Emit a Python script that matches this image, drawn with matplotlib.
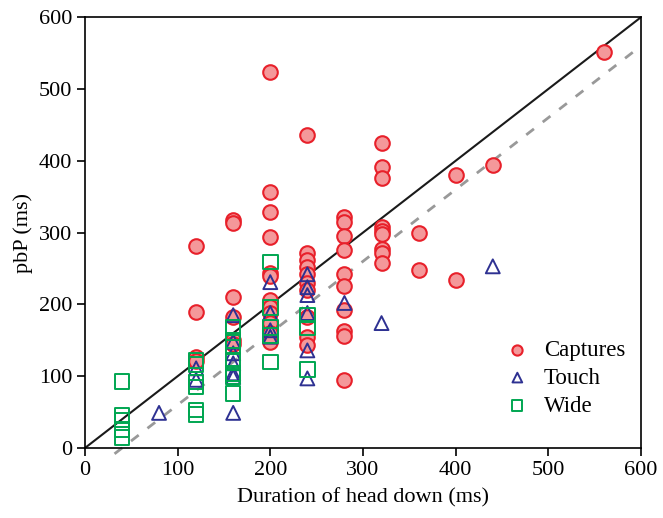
import numpy as np
import matplotlib
matplotlib.use('Agg')
import matplotlib.pyplot as plt

plt.rcParams['font.family'] = ['Liberation Serif', 'DejaVu Serif']

# Captures (red circles)
cap_x = [120, 120, 120, 120,
         160, 160, 160, 160, 160, 160,
         200, 200, 200, 200, 200, 200, 200, 200, 200, 200, 200, 200,
         240, 240, 240, 240, 240, 240, 240, 240, 240, 240,
         280, 280, 280, 280, 280, 280, 280, 280, 280, 280,
         320, 320, 320, 320, 320, 320, 320, 320, 320,
         360, 360, 400, 400, 440, 560]
cap_y = [281, 190, 127, 121,
         318, 314, 210, 182, 150, 145,
         524, 356, 328, 294, 244, 240, 206, 196, 188, 174, 160, 148,
         436, 271, 262, 252, 243, 230, 220, 183, 155, 143,
         322, 315, 295, 276, 242, 226, 192, 163, 156, 95,
         425, 391, 376, 308, 302, 298, 277, 271, 258,
         300, 248, 380, 234, 394, 552]

# Touch (blue triangles)
touch_x = [80, 120, 120,
           160, 160, 160, 160, 160, 160, 160,
           200, 200, 200, 200,
           240, 240, 240, 240, 240, 240,
           280, 320, 440]
touch_y = [49, 111, 95,
           185, 148, 132, 118, 104, 99, 49,
           231, 188, 164, 155,
           242, 224, 213, 188, 136, 97,
           202, 174, 253]

# Wide (green squares)
wide_x = [40, 40, 40, 40, 40,
          120, 120, 120, 120, 120, 120,
          160, 160, 160, 160, 160, 160, 160,
          200, 200, 200, 200, 200,
          240, 240, 240]
wide_y = [93, 46, 39, 25, 15,
          122, 116, 92, 85, 53, 47,
          168, 150, 141, 122, 104, 99, 76,
          259, 196, 168, 157, 120,
          185, 167, 109]

# reference lines
unity = [0, 600]
fit_x = [32, 600]
fit_offset = -40

fig = plt.figure(figsize=(6.63, 5.18), dpi=100)
ax = fig.add_axes([0.128, 0.135, 0.839, 0.832])

ax.plot(unity, unity, color='#1a1a1a', lw=1.5, zorder=1)
ax.plot(fit_x, np.array(fit_x) + fit_offset, color='#999999', lw=2.0,
        dashes=(3.5, 4), zorder=1, clip_on=False)

ax.scatter(cap_x, cap_y, s=110, marker='o', facecolor='#f4989a',
           edgecolor='#e8202a', linewidth=1.5, label='Captures', zorder=3)
ax.scatter(touch_x, touch_y, s=100, marker='^', facecolor='none',
           edgecolor='#2e3192', linewidth=1.4, label='Touch', zorder=4)
ax.scatter(wide_x, wide_y, s=110, marker='s', facecolor='none',
           edgecolor='#00a651', linewidth=1.4, label='Wide', zorder=5)

ax.set_xlim(0, 600)
ax.set_ylim(0, 600)
ax.set_xticks(range(0, 601, 100))
ax.set_yticks(range(0, 601, 100))
ax.tick_params(labelsize=16, direction='out', length=6, width=1.2, pad=3)
for sp in ax.spines.values():
    sp.set_linewidth(1.2)

ax.set_xlabel('Duration of head down (ms)', fontsize=16, labelpad=6)
ax.set_ylabel('pbP (ms)', fontsize=16, labelpad=4)

ax.legend(loc='lower right', bbox_to_anchor=(1.0, 0.036), frameon=False,
          fontsize=16.5, handletextpad=0.15, labelspacing=0.3,
          borderaxespad=0.3, markerscale=0.7)

fig.savefig('out.png', dpi=100)
